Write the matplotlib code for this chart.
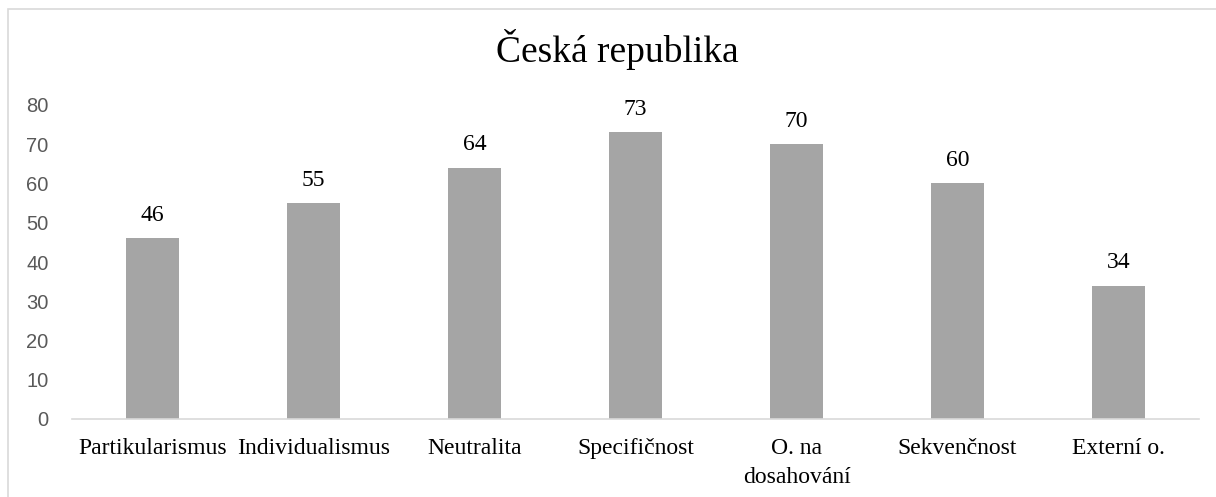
import matplotlib.pyplot as plt
from matplotlib.patches import Rectangle

categories = ['Partikularismus', 'Individualismus', 'Neutralita', 'Specifičnost',
              'O. na\ndosahování', 'Sekvenčnost', 'Externí o.']
values = [46, 55, 64, 73, 70, 60, 34]
y_ticks = [0, 10, 20, 30, 40, 50, 60, 70, 80]
title = 'Česká republika'

W, H = 1216, 497
fig = plt.figure(figsize=(W / 100, H / 100), dpi=100)

# chart frame (only top and left edges are inside the picture)
fig.patches.append(Rectangle((8 / W, -0.2), 1.2, (H - 9) / H + 0.2, transform=fig.transFigure,
                             fill=False, edgecolor='#d9d9d9', linewidth=1.2))

ax = fig.add_axes([72 / W, 78 / H, (1199 - 72) / W, (419 - 105) / H])
x = range(len(categories))
ax.bar(x, values, width=0.325, color='#a5a5a5', zorder=2)
for xi, v in zip(x, values):
    ax.annotate(str(v), (xi, v), xytext=(0, 9), textcoords='offset points',
                ha='center', va='bottom', fontsize=17,
                family='Liberation Serif', color='black')

ax.set_xlim(-0.5, len(categories) - 0.5)
ax.set_ylim(0, 80)
ax.set_yticks(y_ticks)
ax.set_yticklabels([str(t) for t in y_ticks], family='Liberation Sans', fontsize=14.5, color='#595959')
ax.set_xticks(list(x))
ax.set_xticklabels(categories, family='Liberation Serif', fontsize=17, color='black',
                   linespacing=1.45, va='top')
ax.tick_params(axis='both', length=0)
ax.tick_params(axis='y', pad=17)
ax.tick_params(axis='x', pad=14)
for s in ['top', 'right', 'left']:
    ax.spines[s].set_visible(False)
ax.spines['bottom'].set_color('#d9d9d9')
ax.spines['bottom'].set_linewidth(1.2)

fig.text(617 / W, 1 - 50 / H, title, ha='center', va='center', fontsize=27,
         family='Liberation Serif', color='black')

fig.savefig('out.png', dpi=100)
